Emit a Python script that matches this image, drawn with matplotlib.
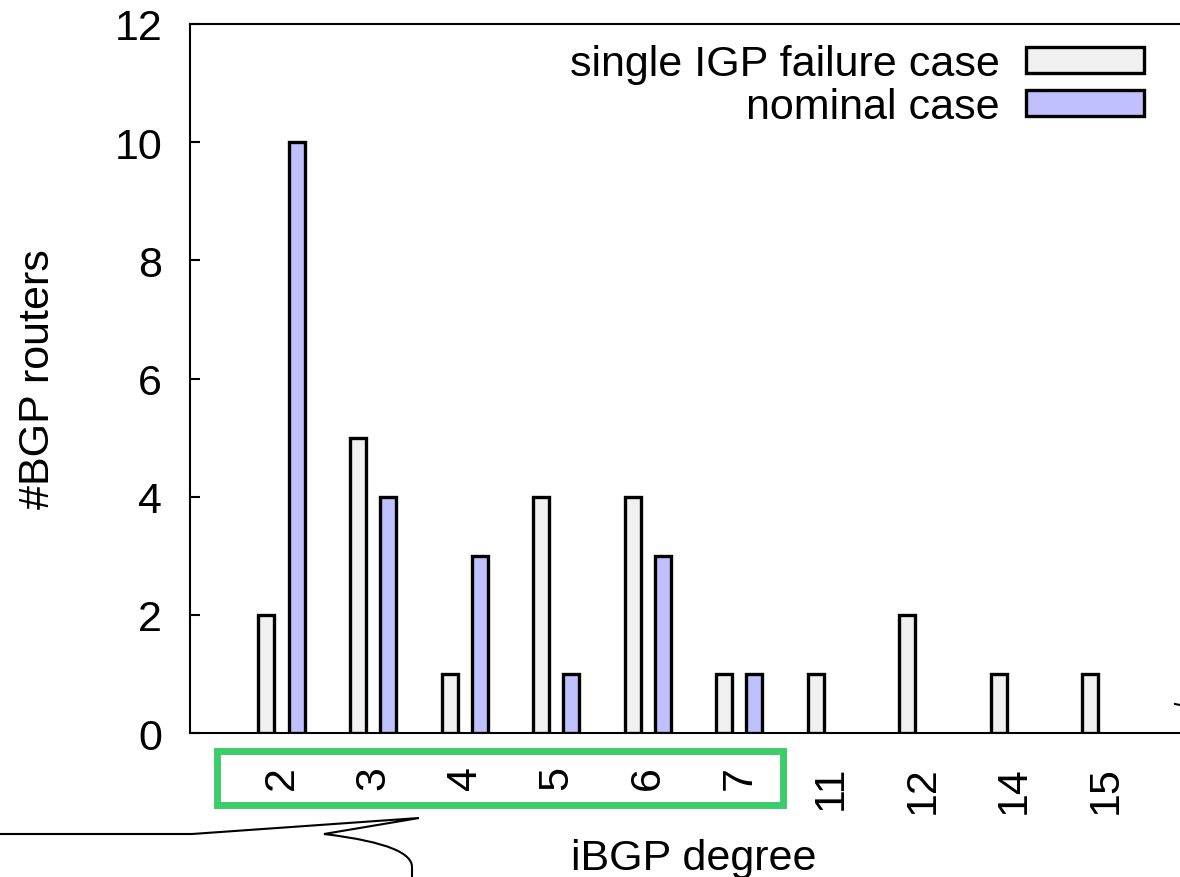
import matplotlib
matplotlib.use('Agg')
import matplotlib.pyplot as plt
from matplotlib.path import Path
from matplotlib.patches import PathPatch, Rectangle
from matplotlib.lines import Line2D
import numpy as np

# data
degrees = ['2', '3', '4', '5', '6', '7', '11', '12', '14', '15']
failure_case = [2, 5, 1, 4, 4, 1, 1, 2, 1, 1]
nominal_case = [10, 4, 3, 1, 3, 1, 0, 0, 0, 0]

plt.rcParams['font.family'] = ['Liberation Sans', 'DejaVu Sans']
plt.rcParams['font.size'] = 31

W, H = 1180, 878
fig = plt.figure(figsize=(W / 100, H / 100), dpi=100)


def px(x, y):
    # pixel position (y downwards) -> figure fraction
    return x / W, 1 - y / H


left, bottom = px(190, 734)
_, top = px(0, 25)
ax = fig.add_axes([left, bottom, (1197 - 190) / W, top - bottom])

x = np.arange(len(degrees))
bw = 0.175
off = 0.165
fx = [xi for xi, v in zip(x, failure_case) if v > 0]
fv = [v for v in failure_case if v > 0]
nx = [xi for xi, v in zip(x, nominal_case) if v > 0]
nv = [v for v in nominal_case if v > 0]
ax.bar(np.array(fx) - off, fv, bw, color='#f0f0f0', edgecolor='black',
       linewidth=2.4, label='single IGP failure case', zorder=3)
ax.bar(np.array(nx) + off, nv, bw, color='#c0c0ff', edgecolor='black',
       linewidth=2.4, label='nominal case', zorder=3)

ax.set_xlim(-1, 10)
ax.set_ylim(0, 12)
ax.set_yticks(range(0, 13, 2))
ax.set_xticks(x)
ax.set_xticklabels(degrees, rotation=90)
ax.tick_params(axis='x', length=0, pad=23)
ax.tick_params(axis='y', direction='in', length=7, width=1.5, pad=20)
for s in ax.spines.values():
    s.set_linewidth(1.5)

ax.set_xlabel('iBGP degree')
ax.set_ylabel('#BGP routers')
axw = 1007
axh = 709
ax.yaxis.set_label_coords((58 - 190) / axw, 0.5)
ax.xaxis.set_label_coords(0.5, (734 - 839) / axh)

ax.legend(loc='upper right', bbox_to_anchor=px(1144, 45),
          bbox_transform=fig.transFigure, frameon=False, markerfirst=False,
          handlelength=2.75, handleheight=0.57, handletextpad=0.6,
          labelspacing=0.07, borderpad=0, borderaxespad=0)

# green highlight box around the small degrees
fig.patches.append(Rectangle(px(216.5, 805.5), (783.5 - 216.5) / W,
                             (805.5 - 751.5) / H, transform=fig.transFigure,
                             fill=False, edgecolor='#3dcc6a', linewidth=5))

# speech bubble callout (partly cut off)
verts = [px(0, 835), px(192, 835), px(419, 819), px(324, 835),
         px(390, 843), px(412, 855), px(412, 868), px(412, 880)]
codes = [Path.MOVETO, Path.LINETO, Path.LINETO, Path.LINETO,
         Path.CURVE4, Path.CURVE4, Path.CURVE4, Path.LINETO]
fig.patches.append(PathPatch(Path(verts, codes), transform=fig.transFigure,
                             fill=False, edgecolor='black', linewidth=1.5))

# tiny cut-off mark at the right edge
fig.lines.append(Line2D(*zip(px(1175, 705), px(1180, 706)),
                        transform=fig.transFigure, color='black', linewidth=1.5))

fig.savefig('out.png', dpi=100)
